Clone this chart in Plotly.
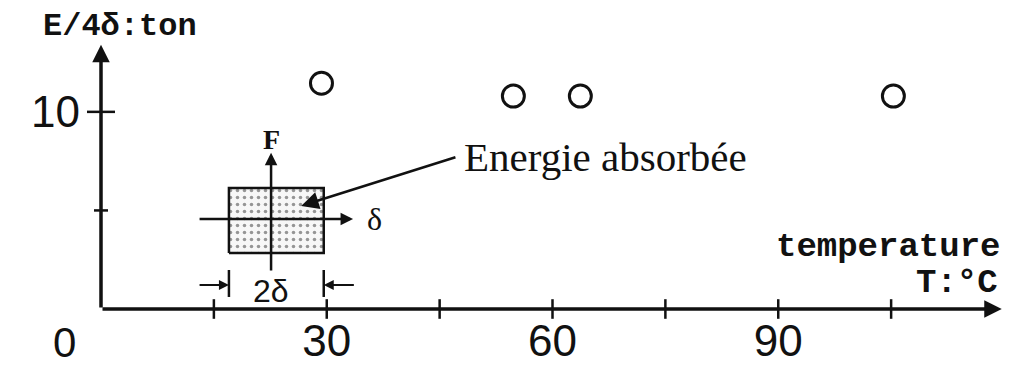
import plotly.graph_objects as go

# ---- data ----
temperature_c = [29.3, 54.8, 63.7, 105.3]
energy_ton = [11.45, 10.8, 10.8, 10.8]
x_tick_vals = [30, 60, 90]
x_tick_text = ["30", "60", "90"]
x_minor_vals = [15, 30, 45, 60, 75, 90, 105]
y_tick_vals = [10]
y_tick_text = ["10"]
y_minor_vals = [5]

X_MAX = 120
Y_MAX = 14
INK = "#111111"

fig = go.Figure()

# stippled inset square (energy absorbed)
rx0, rx1, ry0, ry1 = 17.0, 29.6, 2.84, 6.14
fig.add_trace(go.Scatter(
    x=[rx0, rx1, rx1, rx0, rx0], y=[ry0, ry0, ry1, ry1, ry0],
    mode="lines", fill="toself", line=dict(color=INK, width=2.5),
    fillcolor="rgba(0,0,0,0)",
    fillpattern=dict(shape=".", fgcolor="#333333", bgcolor="#f7f7f7", size=7, solidity=0.2),
    hoverinfo="skip", showlegend=False))

# data points
fig.add_trace(go.Scatter(
    x=temperature_c, y=energy_ton, mode="markers",
    marker=dict(symbol="circle-open", size=22, color=INK, line=dict(width=3, color=INK)),
    showlegend=False, cliponaxis=False))

# crossing tick marks
fig.add_trace(go.Scatter(
    x=x_minor_vals, y=[0] * len(x_minor_vals), mode="markers",
    marker=dict(symbol="line-ns", size=14, line=dict(width=2.5, color=INK)),
    showlegend=False, cliponaxis=False, hoverinfo="skip"))
fig.add_trace(go.Scatter(
    x=[0], y=y_tick_vals, mode="markers",
    marker=dict(symbol="line-ew", size=20, line=dict(width=2.5, color=INK)),
    showlegend=False, cliponaxis=False, hoverinfo="skip"))
fig.add_trace(go.Scatter(
    x=[0], y=y_minor_vals, mode="markers",
    marker=dict(symbol="line-ew", size=10, line=dict(width=2.5, color=INK)),
    showlegend=False, cliponaxis=False, hoverinfo="skip"))

def arrow(x0, y0, x1, y1, width=3, head=2, size=1.0):
    fig.add_annotation(x=x1, y=y1, ax=x0, ay=y0, xref="x", yref="y", axref="x", ayref="y",
                       showarrow=True, arrowhead=head, arrowsize=size, arrowwidth=width,
                       arrowcolor=INK, text="")

def line(x0, y0, x1, y1, width=2.5):
    fig.add_shape(type="line", x0=x0, y0=y0, x1=x1, y1=y1, xref="x", yref="y",
                  line=dict(color=INK, width=width))

# main axes with arrows
arrow(0, 0, 119.7, 0, width=3.5, head=2, size=1.0)
arrow(0, 0, 0, 13.4, width=3.5, head=2, size=1.0)

# inset F / delta axes
arrow(22.6, 1.88, 22.6, 7.92, width=2.5, head=2, size=1.0)
arrow(12.9, 4.57, 33.5, 4.57, width=2.5, head=2, size=1.0)
# dimension marks 2 delta
line(rx0, 0.61, rx0, 1.98)
line(rx1, 0.61, rx1, 1.98)
arrow(12.9, 1.22, rx0, 1.22, width=2, head=2, size=1.0)
arrow(33.8, 1.22, rx1, 1.22, width=2, head=2, size=1.0)
# pointer to the energy label
arrow(47.3, 7.72, 26.6, 5.23, width=2.5, head=2, size=1.4)

serif = "Liberation Serif, Times New Roman, serif"
mono = "Liberation Mono, Courier New, monospace"
sans = "Liberation Sans, Arial, sans-serif"

def label(x, y, text, size, family, xanchor="center", bold=False, ref="data"):
    r = ("x", "y") if ref == "data" else ("paper", "paper")
    fig.add_annotation(x=x, y=y, xref=r[0], yref=r[1], text=f"<b>{text}</b>" if bold else text,
                       showarrow=False, xanchor=xanchor, yanchor="middle",
                       font=dict(size=size, family=family, color=INK))

label(22.6, 8.6, "F", 28, serif, bold=True)
label(36.4, 4.57, "δ", 32, serif)
label(22.6, 0.91, "2δ", 32, sans)
label(48.0, 7.72, "Energie absorbée", 41, serif, xanchor="left")
label(104.6, 3.15, "temperature", 34, mono, bold=True)
label(119.5, 1.32, "T:°C", 34, mono, xanchor="right", bold=True)
label(0.021, 1.022, "E/4δ:ton", 32, mono, bold=True, ref="paper")
label(-0.040, -0.12, "0", 42, sans, ref="paper")

# the page body adds an 8px offset, so the figure is drawn 8px smaller
fig.update_layout(
    width=1013, height=359,
    margin=dict(l=93, r=17, t=25, b=58, autoexpand=False),
    paper_bgcolor="white", plot_bgcolor="white",
    xaxis=dict(range=[0, X_MAX], showgrid=False, zeroline=False, showline=False,
               tickvals=x_tick_vals, ticktext=x_tick_text, ticks="", automargin=False,
               ticklabelstandoff=2,
               tickfont=dict(size=44, family=sans, color=INK)),
    yaxis=dict(range=[0, Y_MAX], showgrid=False, zeroline=False, showline=False,
               tickvals=y_tick_vals, ticktext=y_tick_text, ticks="", automargin=False,
               ticklabelstandoff=20,
               tickfont=dict(size=44, family=sans, color=INK)),
)

fig.write_html("out.html")
